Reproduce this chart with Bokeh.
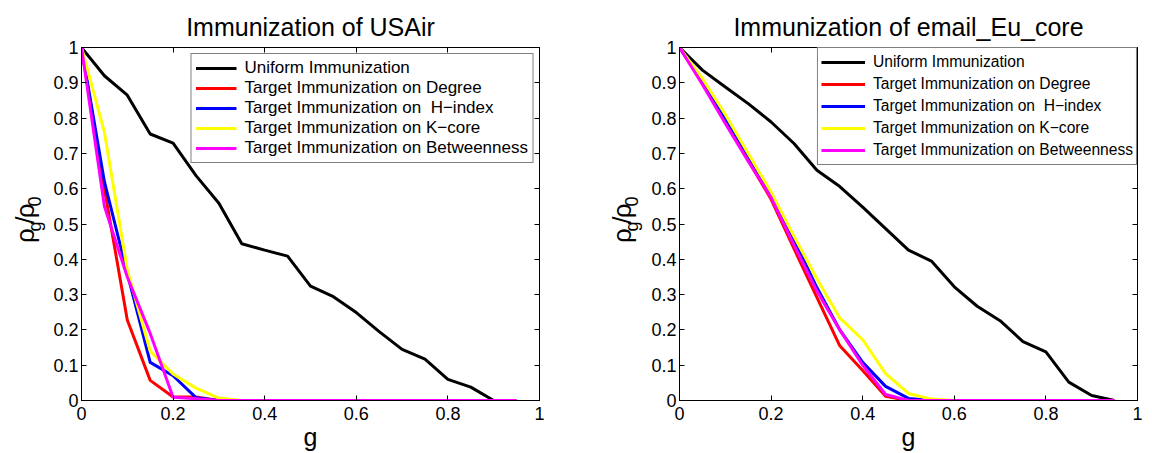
from math import pi
from bokeh.plotting import figure
from bokeh.layouts import row
from bokeh.models import LinearAxis, FixedTicker, Range1d
from bokeh.core.properties import value
from bokeh.embed import file_html
from bokeh.resources import INLINE

# ---------------- data ----------------
g = [0.0, 0.05, 0.1, 0.15, 0.2, 0.25, 0.3, 0.35, 0.4, 0.45,
     0.5, 0.55, 0.6, 0.65, 0.7, 0.75, 0.8, 0.85, 0.9, 0.95]

series_names = ["Uniform Immunization",
                "Target Immunization on Degree",
                "Target Immunization on  H\u2212index",
                "Target Immunization on K\u2212core",
                "Target Immunization on Betweenness"]

usair_uniform = [1.0, 0.92, 0.865, 0.755, 0.729, 0.637, 0.559, 0.444, 0.426, 0.409,
                 0.324, 0.294, 0.249, 0.195, 0.145, 0.117, 0.060, 0.038, 0.0, 0.0]
usair_degree = [1.0, 0.60, 0.228, 0.057, 0.01, 0.01, 0.0, 0.0, 0.0, 0.0,
                0.0, 0.0, 0.0, 0.0, 0.0, 0.0, 0.0, 0.0, 0.0, 0.0]
usair_hindex = [1.0, 0.62, 0.36, 0.108, 0.07, 0.008, 0.0, 0.0, 0.0, 0.0,
                0.0, 0.0, 0.0, 0.0, 0.0, 0.0, 0.0, 0.0, 0.0, 0.0]
usair_kcore = [1.0, 0.76, 0.37, 0.14, 0.075, 0.035, 0.007, 0.0, 0.0, 0.0,
               0.0, 0.0, 0.0, 0.0, 0.0, 0.0, 0.0, 0.0, 0.0, 0.0]
usair_betweenness = [1.0, 0.55, 0.35, 0.19, 0.009, 0.005, 0.0, 0.0, 0.0, 0.0,
                     0.0, 0.0, 0.0, 0.0, 0.0, 0.0, 0.0, 0.0, 0.0, 0.0]

email_uniform = [1.0, 0.936, 0.888, 0.841, 0.789, 0.728, 0.652, 0.606, 0.548, 0.487,
                 0.426, 0.395, 0.322, 0.267, 0.226, 0.167, 0.138, 0.052, 0.014, 0.0]
email_degree = [1.0, 0.90, 0.79, 0.68, 0.57, 0.43, 0.292, 0.155, 0.085, 0.012,
                0.0, 0.0, 0.0, 0.0, 0.0, 0.0, 0.0, 0.0, 0.0, 0.0]
email_hindex = [1.0, 0.905, 0.80, 0.695, 0.58, 0.455, 0.32, 0.20, 0.108, 0.04,
                0.006, 0.0, 0.0, 0.0, 0.0, 0.0, 0.0, 0.0, 0.0, 0.0]
email_kcore = [1.0, 0.912, 0.81, 0.70, 0.59, 0.465, 0.345, 0.234, 0.172, 0.076,
               0.02, 0.004, 0.0, 0.0, 0.0, 0.0, 0.0, 0.0, 0.0, 0.0]
email_betweenness = [1.0, 0.895, 0.785, 0.678, 0.575, 0.44, 0.31, 0.20, 0.10, 0.017,
                     0.0, 0.0, 0.0, 0.0, 0.0, 0.0, 0.0, 0.0, 0.0, 0.0]

x_ticks = [0.0, 0.2, 0.4, 0.6, 0.8, 1.0]
x_tick_labels = ["0", "0.2", "0.4", "0.6", "0.8", "1"]
y_ticks = [0.0, 0.1, 0.2, 0.3, 0.4, 0.5, 0.6, 0.7, 0.8, 0.9, 1.0]
y_tick_labels = ["0", "0.1", "0.2", "0.3", "0.4", "0.5", "0.6", "0.7", "0.8", "0.9", "1"]

titles = ["Immunization of USAir", "Immunization of email_Eu_core"]
x_label = "g"
# y label rho_g / rho_0 : (text, is_subscript)
y_label_parts = [("\u03c1", False), ("g", True), ("/", False), ("\u03c1", False), ("0", True)]

# ---------------- style ----------------
FONT = "Liberation Sans"
COLORS = ["black", "#ff0000", "#0000ff", "#ffff00", "#ff00ff"]
H = 453


def style_axis(ax, ticks, labels, show_labels, standoff):
    ax.ticker = FixedTicker(ticks=ticks)
    if show_labels:
        ax.major_label_overrides = {t: s for t, s in zip(ticks, labels)}
    else:
        ax.major_label_overrides = {t: "" for t in ticks}
    ax.major_tick_in = 5
    ax.major_tick_out = 0
    ax.minor_tick_line_color = None
    ax.axis_line_color = "black"
    ax.major_tick_line_color = "black"
    ax.major_label_text_font = FONT
    ax.major_label_text_font_size = "18px"
    ax.major_label_text_color = "black"
    ax.major_label_standoff = standoff


def make_ylabel_fig(width, base_x):
    """Narrow figure holding the rotated, composed y-axis label."""
    f = figure(width=width, height=H, x_range=Range1d(0, width), y_range=Range1d(0, H),
               output_backend="svg", toolbar_location=None,
               x_axis_type=None, y_axis_type=None,
               min_border_left=0, min_border_right=0, min_border_top=0, min_border_bottom=0)
    f.outline_line_color = None
    f.xgrid.visible = False
    f.ygrid.visible = False
    f.background_fill_color = "white"
    f.border_fill_color = "white"
    # advance widths (px) of the pieces, start near canvas y=251 and go upward
    adv = {"\u03c1": 14.8, "g": 10.0, "/": 7.2, "0": 10.0}
    pos = H - 251.0
    for txt, sub in y_label_parts:
        f.text(x=[base_x + (10.0 if sub else 0.0)], y=[pos], text=[txt], angle=pi / 2,
               text_font=value(FONT), text_font_size="18px" if sub else "26px",
               text_align="left", text_baseline="alphabetic", text_color="black")
        pos += adv[txt]
    return f


def make_fig(title, ys, width, leg_font, leg_row, leg_margin, leg_pad, leg_glyph,
             leg_standoff, border_right):
    p = figure(width=width, height=H, x_range=Range1d(0, 1), y_range=Range1d(0, 1),
               output_backend="svg", toolbar_location=None,
               min_border_left=31, min_border_right=border_right,
               min_border_top=47, min_border_bottom=52)
    p.title.text = title
    p.title.text_font = FONT
    p.title.text_font_size = "25px"
    p.title.text_font_style = "normal"
    p.title.align = "center"
    p.title.text_color = "black"
    p.title.standoff = 14
    p.xgrid.visible = False
    p.ygrid.visible = False
    p.outline_line_color = "black"
    p.outline_line_width = 1
    p.background_fill_color = "white"
    p.border_fill_color = "white"

    style_axis(p.xaxis[0], x_ticks, x_tick_labels, True, 6)
    style_axis(p.yaxis[0], y_ticks, y_tick_labels, True, 3)
    p.xaxis[0].axis_label = x_label
    p.xaxis[0].axis_label_text_font = FONT
    p.xaxis[0].axis_label_text_font_size = "25px"
    p.xaxis[0].axis_label_text_font_style = "normal"
    p.xaxis[0].axis_label_text_color = "black"
    p.xaxis[0].axis_label_standoff = 0
    top = LinearAxis()
    style_axis(top, x_ticks, x_tick_labels, False, 3)
    right = LinearAxis()
    style_axis(right, y_ticks, y_tick_labels, False, 3)
    p.add_layout(top, "above")
    p.add_layout(right, "right")

    for name, vals, col in zip(series_names, ys, COLORS):
        p.line(g, vals, line_color=col, line_width=3, legend_label=name)

    lg = p.legend[0]
    lg.location = "top_right"
    lg.margin = leg_margin
    lg.padding = leg_pad
    lg.spacing = 0
    lg.label_height = leg_row
    lg.glyph_height = leg_row
    lg.glyph_width = leg_glyph
    lg.label_standoff = leg_standoff
    lg.label_text_font = FONT
    lg.label_text_font_size = leg_font
    lg.label_text_color = "black"
    lg.border_line_color = "black"
    lg.border_line_width = 1.5
    lg.background_fill_alpha = 1.0
    return p


lab1 = make_ylabel_fig(50, 24.0)
p1 = make_fig(titles[0],
              [usair_uniform, usair_degree, usair_hindex, usair_kcore, usair_betweenness],
              526, "17px", 20, 6, 4, 41, 8, 37)
lab2 = make_ylabel_fig(72, 45.0)
p2 = make_fig(titles[1],
              [email_uniform, email_degree, email_hindex, email_kcore, email_betweenness],
              504, "15.6px", 22, 0, 3, 44, 8, 15)

layout = row(lab1, p1, lab2, p2)
open("out.html", "w").write(file_html(layout, INLINE))
